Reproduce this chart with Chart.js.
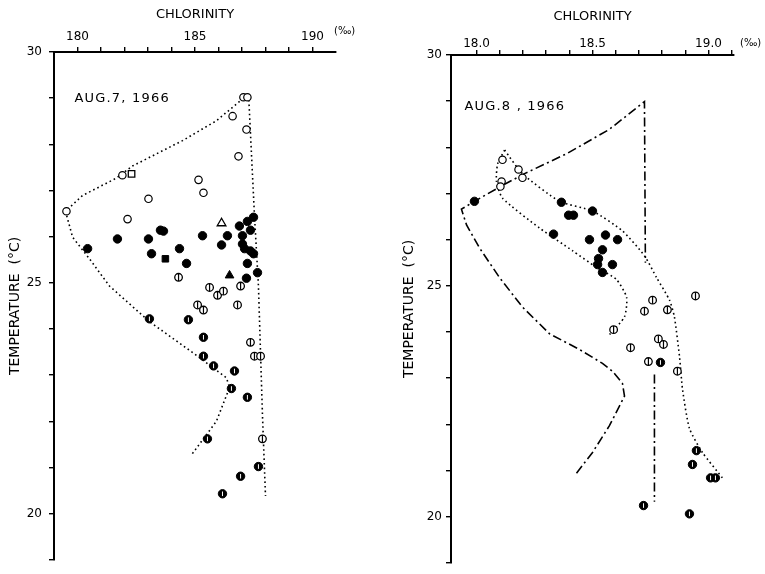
<!DOCTYPE html>
<html><head><meta charset="utf-8">
<script src="https://cdn.jsdelivr.net/npm/chart.js@4.4.0/dist/chart.umd.min.js"></script>
<style>
html,body{margin:0;padding:0;background:#fff;}
#wrap{position:relative;width:765px;height:574px;background:#fff;}
#c1{position:absolute;left:0;top:0;}
#c2{position:absolute;left:380px;top:0;}
</style></head><body>
<div id="wrap">
<canvas id="c1" width="380" height="574"></canvas>
<canvas id="c2" width="385" height="574"></canvas>
</div>
<script>
// ---------- axes / ticks ----------
const yTickValues = [19,20,21,22,23,24,25,26,27,28,29,30];
const yLabelValues = [20,25,30];
const leftXTickValues = [18.0,18.1,18.2,18.3,18.4,18.5,18.6,18.7,18.8,18.9,19.0];
const rightXTickValues = [18.0,18.1,18.2,18.3,18.4,18.5,18.6,18.7,18.8,18.9,19.0,19.1];
const xLabelValues = [18.0,18.5,19.0];
const leftXLabels = ['180','185','190'];
const rightXLabels = ['18.0','18.5','19.0'];

// ---------- AUG. 7, 1966 (left) ----------
const leftOpen = [[18.706,29.02],[18.723,29.02],[18.660,28.61],[18.719,28.32],[18.685,27.74],[18.191,27.33],[18.515,27.23],[18.536,26.95],[18.302,26.82],[17.953,26.55],[18.213,26.38]];
const leftOpenSquare = [[18.230,27.36]];
const leftOpenTriangle = [[18.613,26.29]];
const leftFilled = [[18.170,25.95],[18.043,25.74],[18.302,25.95],[18.353,26.14],[18.366,26.12],[18.315,25.63],[18.434,25.74],[18.464,25.42],[18.532,26.02],[18.638,26.02],[18.613,25.82],[18.689,26.23],[18.723,26.33],[18.749,26.42],[18.736,26.14],[18.702,26.02],[18.702,25.84],[18.711,25.74],[18.736,25.69],[18.749,25.63],[18.723,25.42],[18.766,25.22],[18.719,25.10]];
const leftFilledSquare = [[18.374,25.52]];
const leftFilledTriangle = [[18.647,25.16]];
const leftOpenBar = [[18.430,25.12],[18.562,24.90],[18.596,24.73],[18.621,24.82],[18.694,24.93],[18.511,24.52],[18.536,24.41],[18.681,24.52],[18.736,23.71],[18.753,23.41],[18.779,23.41],[18.787,21.62]];
const leftDarkBar = [[18.306,24.22],[18.472,24.20],[18.536,23.82],[18.536,23.41],[18.579,23.20],[18.668,23.09],[18.655,22.71],[18.723,22.52],[18.553,21.62],[18.770,21.02],[18.694,20.81],[18.617,20.43]];
const leftDotted = [[18.489,21.30],[18.591,22.00],[18.647,22.73],[18.634,22.94],[18.506,23.43],[18.306,24.16],[18.136,24.93],[18.051,25.52],[17.979,25.99],[17.949,26.55],[18.021,26.89],[18.166,27.27],[18.234,27.53],[18.447,28.08],[18.591,28.51],[18.702,28.98],[18.728,29.08],[18.753,26.46],[18.770,24.93],[18.787,22.15],[18.800,20.38]];

// ---------- AUG. 8, 1966 (right) ----------
const rightOpen = [[18.112,27.73],[18.181,27.52],[18.198,27.34],[18.108,27.26],[18.103,27.15]];
const rightFilled = [[17.991,26.83],[18.366,26.81],[18.500,26.62],[18.397,26.53],[18.418,26.53],[18.332,26.12],[18.487,26.00],[18.556,26.10],[18.608,26.00],[18.543,25.78],[18.526,25.59],[18.522,25.46],[18.586,25.46],[18.543,25.29]];
const rightOpenBar = [[18.591,24.05],[18.944,24.78],[18.759,24.69],[18.724,24.45],[18.823,24.48],[18.784,23.85],[18.806,23.73],[18.664,23.66],[18.741,23.36],[18.866,23.15]];
const rightDarkBar = [[18.793,23.34],[18.948,21.43],[18.931,21.13],[19.009,20.84],[19.030,20.84],[18.720,20.24],[18.918,20.06]];
const rightDottedA = [[18.121,27.94],[18.091,27.64],[18.086,27.26],[18.112,26.90],[18.272,26.25],[18.414,25.76],[18.517,25.40],[18.603,25.14],[18.647,24.75],[18.638,24.33],[18.573,23.94]];
const rightDottedB = [[18.121,27.94],[18.198,27.43],[18.358,26.83],[18.500,26.62],[18.629,26.19],[18.724,25.65],[18.776,25.18],[18.832,24.69],[18.853,24.33],[18.875,23.47],[18.888,22.76],[18.918,21.91],[18.974,21.39],[19.060,20.84]];
const rightDashDot = [[18.431,20.94],[18.500,21.39],[18.573,21.97],[18.638,22.61],[18.629,22.89],[18.586,23.15],[18.543,23.32],[18.444,23.62],[18.315,23.96],[18.198,24.54],[18.099,25.18],[18.013,25.82],[17.957,26.32],[17.935,26.66],[17.991,26.83],[18.103,27.15],[18.207,27.43],[18.388,27.86],[18.573,28.39],[18.724,28.99],[18.728,25.50]];
const rightDashDotLow = [[18.767,23.08],[18.767,20.32]];

// ---------- helpers ----------
const FONT = '"DejaVu Sans", sans-serif';
const pts = a => a.map(p => ({x: p[0], y: p[1]}));

function markers(data, kind) {
  const base = {data: pts(data), showLine: false, order: 5};
  switch (kind) {
    case 'open': return [Object.assign(base, {pointStyle:'circle', pointRadius:3.7, backgroundColor:'#fff', borderColor:'#000', borderWidth:1.2})];
    case 'filled': return [Object.assign(base, {pointStyle:'circle', pointRadius:4.2, backgroundColor:'#000', borderColor:'#000', borderWidth:1})];
    case 'openSquare': return [Object.assign(base, {pointStyle:'rect', pointRadius:4.6, backgroundColor:'#fff', borderColor:'#000', borderWidth:1.3})];
    case 'filledSquare': return [Object.assign(base, {pointStyle:'rect', pointRadius:4.6, backgroundColor:'#000', borderColor:'#000', borderWidth:1})];
    case 'openTriangle': return [Object.assign(base, {pointStyle:'triangle', pointRadius:5, backgroundColor:'#fff', borderColor:'#000', borderWidth:1.3})];
    case 'filledTriangle': return [Object.assign(base, {pointStyle:'triangle', pointRadius:5, backgroundColor:'#000', borderColor:'#000', borderWidth:1})];
    case 'openBar': return [
      Object.assign(base, {pointStyle:'circle', pointRadius:3.8, backgroundColor:'#fff', borderColor:'#000', borderWidth:1.3}),
      {data: pts(data), showLine:false, order:1, pointStyle:'line', pointRotation:90, pointRadius:3.6, borderColor:'#000', borderWidth:1.2}
    ];
    case 'darkBar': return [
      Object.assign(base, {pointStyle:'circle', pointRadius:4.2, backgroundColor:'#000', borderColor:'#000', borderWidth:1}),
      {data: pts(data), showLine:false, order:1, pointStyle:'line', pointRotation:90, pointRadius:2.3, borderColor:'#fff', borderWidth:1}
    ];
  }
}
function line(data, dash, tension) {
  return {data: pts(data), showLine: true, pointRadius: 0, borderColor: '#000', borderWidth: 1.6,
          borderDash: dash, tension: tension, fill: false, order: 10};
}
const DOTTED = [1.6, 3];
const DASHDOT = [9, 3.5, 2, 3.5];

function xAxis(min, max, tickVals, labels, labelPad, fontSize, axisH, titlePadTop) {
  return {
    type: 'linear', position: 'top', min: min, max: max,
    afterBuildTicks: s => { s.ticks = tickVals.map(v => ({value: v})); },
    afterFit: s => { s.height = axisH; },
    ticks: {autoSkip: false, maxRotation: 0, minRotation: 0, padding: labelPad, color: '#000',
      font: {family: FONT, size: fontSize},
      callback: v => { const i = xLabelValues.findIndex(l => Math.abs(l - v) < 1e-6); return i >= 0 ? labels[i] : ''; }},
    grid: {display: true, drawOnChartArea: false, drawTicks: true, tickLength: 5, color: '#000', lineWidth: 1.4},
    border: {display: true, color: '#000', width: 2},
    title: {display: true, text: 'CHLORINITY', color: '#000', font: {family: FONT, size: 13}, padding: {top: titlePadTop, bottom: 0}}
  };
}
function yAxis(axisW, labelPad, titlePadTop) {
  return {
    type: 'linear', position: 'left', min: 19, max: 30,
    afterBuildTicks: s => { s.ticks = yTickValues.map(v => ({value: v})); },
    afterFit: s => { s.width = axisW; },
    ticks: {autoSkip: false, padding: labelPad, color: '#000', font: {family: FONT, size: 12},
      callback: v => yLabelValues.includes(v) ? String(v) : ''},
    grid: {display: true, drawOnChartArea: false, drawTicks: true, tickLength: 5, color: '#000', lineWidth: 1.4},
    border: {display: true, color: '#000', width: 2},
    title: {display: true, text: 'TEMPERATURE  (°C)', color: '#000', font: {family: FONT, size: 14}, padding: {top: titlePadTop, bottom: 0}}
  };
}

const notesPlugin = {
  id: 'notes',
  afterDraw(chart, args, o) {
    const {ctx, chartArea} = chart;
    const xs = chart.scales.x, ys = chart.scales.y;
    ctx.save();
    ctx.fillStyle = '#000';
    ctx.textBaseline = 'middle';
    ctx.textAlign = 'left';
    ctx.font = '13px ' + FONT;
    try { ctx.letterSpacing = '1.2px'; } catch (e) {}
    ctx.fillText(o.date, xs.getPixelForValue(o.dateX), ys.getPixelForValue(o.dateY));
    try { ctx.letterSpacing = '0px'; } catch (e) {}
    ctx.font = '10px ' + FONT;
    ctx.fillText('(‰)', chartArea.right + o.unitDx, chartArea.top + o.unitDy);
    ctx.restore();
  }
};

function makeChart(id, datasets, scales, padding, notes) {
  return new Chart(document.getElementById(id), {
    type: 'scatter',
    data: {datasets: datasets},
    options: {
      responsive: false, animation: false, events: [],
      layout: {padding: padding},
      scales: scales,
      plugins: {legend: {display: false}, tooltip: {enabled: false}, title: {display: false}, notes: notes}
    },
    plugins: [notesPlugin]
  });
}

makeChart('c1', [
  line(leftDotted, DOTTED, 0),
  ...markers(leftOpen, 'open'),
  ...markers(leftOpenSquare, 'openSquare'),
  ...markers(leftOpenTriangle, 'openTriangle'),
  ...markers(leftFilled, 'filled'),
  ...markers(leftFilledSquare, 'filledSquare'),
  ...markers(leftFilledTriangle, 'filledTriangle'),
  ...markers(leftOpenBar, 'openBar'),
  ...markers(leftDarkBar, 'darkBar')
], {
  x: xAxis(17.9, 19.1, leftXTickValues, leftXLabels, 3, 12, 48, 3),
  y: yAxis(47, 7, 0)
}, {left: 7, top: 4, right: 44, bottom: 6},
{date: 'AUG.7, 1966', dateX: 17.987, dateY: 28.98, unitDx: -2, unitDy: -21});

makeChart('c2', [
  line(rightDottedA, DOTTED, 0.2),
  line(rightDottedB, DOTTED, 0.2),
  line(rightDashDot, DASHDOT, 0),
  line(rightDashDotLow, DASHDOT, 0),
  ...markers(rightOpen, 'open'),
  ...markers(rightFilled, 'filled'),
  ...markers(rightOpenBar, 'openBar'),
  ...markers(rightDarkBar, 'darkBar')
], {
  x: xAxis(17.89, 19.11, rightXTickValues, rightXLabels, -1, 12, 51, 5),
  y: yAxis(50, 4, 0)
}, {left: 21, top: 4, right: 31, bottom: 5},
{date: 'AUG.8 , 1966', dateX: 17.948, dateY: 28.89, unitDx: 6, unitDy: -12});
</script>
</body></html>
